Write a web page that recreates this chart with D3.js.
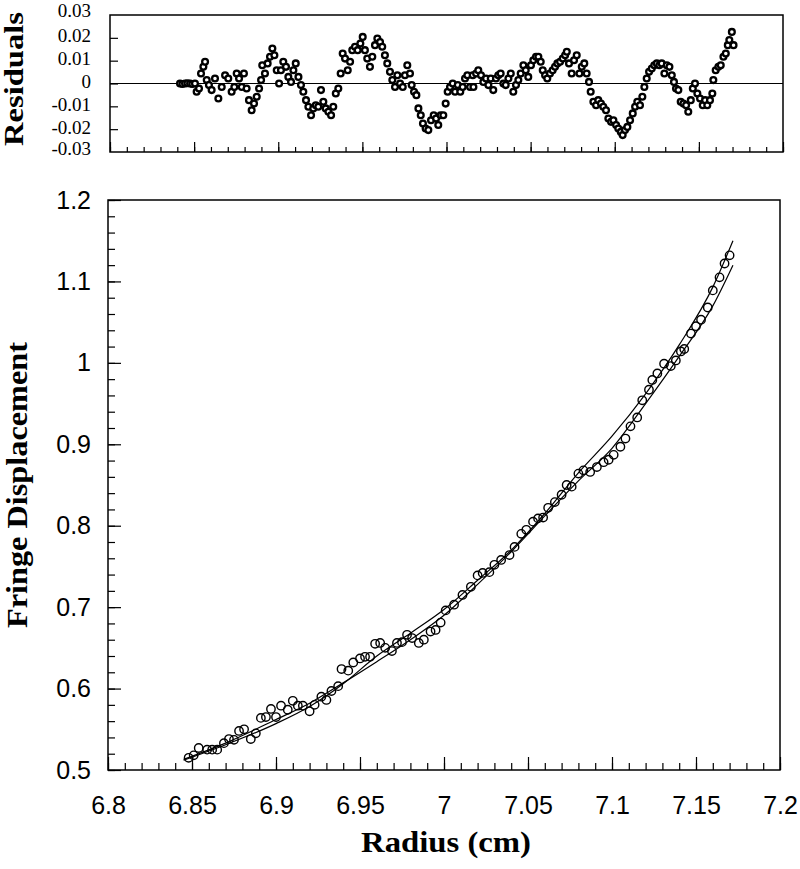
<!DOCTYPE html>
<html>
<head>
<meta charset="utf-8">
<script src="https://cdn.jsdelivr.net/npm/d3@7"></script>
<style>
  body { margin: 0; background: #fff; }
</style>
</head>
<body>
<div id="graph"></div>
<script>
// residuals of the fit, [radius, residual]
const residuals = [
  [6.8416, 0], [6.8430, -0.0002], [6.8446, 0], [6.8460, 0.0001], [6.8476, 0], [6.8489, -0.0002], [6.8505, 0],
  [6.8515, -0.0036], [6.8529, -0.0022], [6.8541, 0.0044], [6.8555, 0.0073], [6.8565, 0.0095], [6.8575, 0.0015],
  [6.8588, -0.0007], [6.8604, -0.0029], [6.8624, 0.0022], [6.8644, -0.0066], [6.8664, -0.0015], [6.8684, 0.0036],
  [6.8703, 0.0022], [6.8723, -0.0036], [6.8739, -0.0015], [6.8753, 0.0044], [6.8767, 0.0022], [6.8783, -0.0015],
  [6.8796, 0.0044], [6.8812, -0.0022], [6.8826, -0.0073], [6.8842, -0.0117], [6.8856, -0.0088], [6.8872, -0.0058],
  [6.8886, -0.0022], [6.8898, 0.0015], [6.8905, 0.0080], [6.8921, 0.0044], [6.8937, 0.0088], [6.8951, 0.0117],
  [6.8965, 0.0153], [6.8977, 0.0124], [6.8991, 0.0058], [6.9005, 0.0000], [6.9016, 0.0058], [6.9030, 0.0095],
  [6.9046, 0.0073], [6.9060, 0.0029], [6.9076, 0.0007], [6.9090, 0.0058], [6.9104, 0.0088], [6.9120, 0.0029],
  [6.9135, -0.0007], [6.9149, -0.0036], [6.9165, -0.0073], [6.9179, -0.0102], [6.9195, -0.0139], [6.9208, -0.0109],
  [6.9223, -0.0095], [6.9238, -0.0102], [6.9254, -0.0029], [6.9268, -0.0080], [6.9282, -0.0109], [6.9298, -0.0124],
  [6.9314, -0.0139], [6.9327, -0.0102], [6.9342, -0.0044], [6.9357, -0.0022], [6.9371, 0.0044], [6.9383, 0.0131],
  [6.9397, 0.0109], [6.9413, 0.0058], [6.9427, 0.0095], [6.9440, 0.0146], [6.9456, 0.0161], [6.9472, 0.0146],
  [6.9488, 0.0175], [6.9502, 0.0204], [6.9515, 0.0146], [6.9529, 0.0109], [6.9545, 0.0073], [6.9559, 0.0117],
  [6.9575, 0.0168], [6.9589, 0.0197], [6.9605, 0.0182], [6.9618, 0.0161], [6.9634, 0.0124], [6.9648, 0.0088],
  [6.9664, 0.0051], [6.9678, 0.0015], [6.9694, -0.0015], [6.9708, 0.0036], [6.9724, 0.0000], [6.9740, -0.0015],
  [6.9753, 0.0036], [6.9767, 0.0080], [6.9783, 0.0044], [6.9793, -0.0007], [6.9807, -0.0036], [6.9821, -0.0051],
  [6.9833, -0.0109], [6.9847, -0.0139], [6.9860, -0.0175], [6.9876, -0.0197], [6.9892, -0.0204], [6.9908, -0.0161],
  [6.9924, -0.0139], [6.9938, -0.0153], [6.9951, -0.0182], [6.9965, -0.0139], [6.9981, -0.0139], [6.9995, -0.0088],
  [7.0007, -0.0036], [7.0021, -0.0015], [7.0037, 0.0000], [7.0051, -0.0036], [7.0067, -0.0007], [7.0082, -0.0036],
  [7.0096, -0.0015], [7.0110, 0.0022], [7.0124, 0.0036], [7.0140, -0.0015], [7.0156, 0.0036], [7.0160, -0.0015],
  [7.0176, 0.0044], [7.0189, 0.0058], [7.0205, 0.0036], [7.0219, 0.0007], [7.0235, 0.0022], [7.0249, -0.0007],
  [7.0263, 0.0022], [7.0278, -0.0029], [7.0294, 0.0022], [7.0308, 0.0036], [7.0322, 0.0044], [7.0338, 0.0000],
  [7.0352, -0.0007], [7.0368, 0.0022], [7.0382, 0.0044], [7.0397, -0.0036], [7.0413, -0.0007], [7.0427, 0.0015],
  [7.0441, 0.0044], [7.0457, 0.0080], [7.0471, 0.0058], [7.0486, 0.0029], [7.0502, 0.0080], [7.0516, 0.0102],
  [7.0532, 0.0117], [7.0546, 0.0117], [7.0560, 0.0095], [7.0572, 0.0058], [7.0586, 0.0036], [7.0599, 0.0022],
  [7.0615, 0.0044], [7.0631, 0.0058], [7.0645, 0.0073], [7.0659, 0.0088], [7.0675, 0.0095], [7.0691, 0.0109],
  [7.0705, 0.0124], [7.0715, 0.0139], [7.0728, 0.0088], [7.0744, 0.0044], [7.0758, 0.0102], [7.0774, 0.0124],
  [7.0790, 0.0044], [7.0804, 0.0073], [7.0819, 0.0088], [7.0833, 0.0044], [7.0847, 0.0007], [7.0857, -0.0036],
  [7.0873, -0.0080], [7.0889, -0.0095], [7.0902, -0.0073], [7.0918, -0.0088], [7.0932, -0.0102], [7.0948, -0.0117],
  [7.0962, -0.0153], [7.0978, -0.0168], [7.0992, -0.0161], [7.1008, -0.0182], [7.1021, -0.0197], [7.1036, -0.0212],
  [7.1047, -0.0226], [7.1061, -0.0204], [7.1075, -0.0190], [7.1091, -0.0161], [7.1107, -0.0131], [7.1121, -0.0102],
  [7.1134, -0.0080], [7.1150, -0.0095], [7.1164, -0.0058], [7.1176, -0.0015], [7.1190, 0.0022], [7.1204, 0.0051],
  [7.1220, 0.0066], [7.1235, 0.0080], [7.1250, 0.0088], [7.1265, 0.0080], [7.1279, 0.0088], [7.1295, 0.0044],
  [7.1309, 0.0080], [7.1325, 0.0073], [7.1339, 0.0036], [7.1352, 0.0007], [7.1364, -0.0022], [7.1378, -0.0029],
  [7.1392, -0.0080], [7.1408, -0.0088], [7.1424, -0.0095], [7.1437, -0.0124], [7.1452, -0.0073], [7.1464, -0.0022],
  [7.1477, 0.0000], [7.1491, -0.0044], [7.1507, -0.0066], [7.1523, -0.0095], [7.1537, -0.0073], [7.1550, -0.0095],
  [7.1566, -0.0073], [7.1580, -0.0044], [7.1586, 0.0015], [7.1600, 0.0058], [7.1616, 0.0073], [7.1630, 0.0080],
  [7.1646, 0.0117], [7.1660, 0.0131], [7.1672, 0.0168], [7.1681, 0.0190], [7.1696, 0.0226], [7.1706, 0.0168]
];

// measured fringe displacement, [radius, displacement]
const displacement = [
  [6.848, 0.515], [6.851, 0.518], [6.854, 0.527], [6.859, 0.525], [6.862, 0.525], [6.865, 0.525], [6.869, 0.533],
  [6.872, 0.538], [6.875, 0.537], [6.878, 0.548], [6.881, 0.55], [6.885, 0.538], [6.888, 0.545], [6.891, 0.564],
  [6.894, 0.565], [6.897, 0.575], [6.9, 0.565], [6.903, 0.579], [6.907, 0.574], [6.91, 0.585], [6.913, 0.579],
  [6.916, 0.579], [6.92, 0.572], [6.923, 0.58], [6.927, 0.59], [6.93, 0.586], [6.933, 0.597], [6.937, 0.603],
  [6.939, 0.624], [6.943, 0.622], [6.946, 0.632], [6.95, 0.637], [6.953, 0.639], [6.956, 0.639], [6.959, 0.655],
  [6.962, 0.656], [6.965, 0.65], [6.969, 0.646], [6.972, 0.656], [6.975, 0.657], [6.978, 0.666], [6.981, 0.662],
  [6.985, 0.656], [6.988, 0.66], [6.992, 0.67], [6.995, 0.672], [6.998, 0.681], [7.001, 0.696], [7.006, 0.703],
  [7.011, 0.715], [7.016, 0.725], [7.02, 0.739], [7.023, 0.742], [7.027, 0.743], [7.03, 0.752], [7.034, 0.758],
  [7.039, 0.764], [7.042, 0.774], [7.046, 0.79], [7.049, 0.795], [7.053, 0.805], [7.056, 0.809], [7.059, 0.81],
  [7.062, 0.822], [7.066, 0.829], [7.07, 0.838], [7.073, 0.85], [7.076, 0.848], [7.08, 0.864], [7.083, 0.868],
  [7.087, 0.866], [7.091, 0.872], [7.095, 0.878], [7.098, 0.881], [7.101, 0.887], [7.105, 0.897], [7.108, 0.907],
  [7.111, 0.922], [7.115, 0.933], [7.118, 0.954], [7.122, 0.967], [7.124, 0.979], [7.127, 0.987], [7.131, 0.999],
  [7.135, 0.996], [7.138, 1.003], [7.141, 1.014], [7.143, 1.017], [7.147, 1.036], [7.15, 1.045], [7.153, 1.053],
  [7.157, 1.068], [7.16, 1.089], [7.164, 1.105], [7.167, 1.122], [7.17, 1.132]
];

// the two fitted curves
const fitUpper = [
  [6.845, 0.512], [6.87, 0.531], [6.9, 0.557], [6.92, 0.578], [6.94, 0.606], [6.96, 0.64], [6.98, 0.668],
  [7.0, 0.697], [7.02, 0.733], [7.04, 0.77], [7.06, 0.815], [7.08, 0.865], [7.1, 0.91], [7.12, 0.962],
  [7.14, 1.022], [7.16, 1.093], [7.172, 1.15]
];
const fitLower = [
  [6.845, 0.513], [6.87, 0.533], [6.9, 0.562], [6.92, 0.582], [6.94, 0.607], [6.96, 0.633], [6.98, 0.66],
  [7.0, 0.69], [7.02, 0.728], [7.04, 0.768], [7.06, 0.812], [7.08, 0.855], [7.1, 0.895], [7.12, 0.95],
  [7.14, 1.008], [7.16, 1.07], [7.172, 1.12]
];

// tick labels
const xTicks = [6.8, 6.85, 6.9, 6.95, 7, 7.05, 7.1, 7.15, 7.2];
const xTickLabels = ['6.8', '6.85', '6.9', '6.95', '7', '7.05', '7.1', '7.15', '7.2'];
const yTicks = [0.5, 0.6, 0.7, 0.8, 0.9, 1, 1.1, 1.2];
const yTickLabels = ['0.5', '0.6', '0.7', '0.8', '0.9', '1', '1.1', '1.2'];
const resTicks = [0.03, 0.02, 0.01, 0, -0.01, -0.02, -0.03];
const resTickLabels = ['0.03', '0.02', '0.01', '0', '-0.01', '-0.02', '-0.03'];

const w = 800;
const h = 869;
const resBox = {left: 110, right: 783, top: 15, bottom: 152};
const mainBox = {left: 108, right: 780, top: 200, bottom: 770};
const serif = '"Liberation Serif", "Times New Roman", serif';
const sans = '"Liberation Sans", Arial, sans-serif';

const svg = d3.select('#graph')
    .append('svg')
    .attr('width', w)
    .attr('height', h);

// ---------- residuals panel ----------
const xTop = d3.scaleLinear().domain([6.8, 7.2]).range([resBox.left, resBox.right]);
const yTop = d3.scaleLinear().domain([-0.03, 0.03]).range([resBox.bottom, resBox.top]);

svg.append('line')
    .attr('x1', resBox.left).attr('x2', resBox.right)
    .attr('y1', yTop(0)).attr('y2', yTop(0))
    .attr('stroke', '#000').attr('stroke-width', 1.2);

svg.append('g')
    .selectAll('circle')
    .data(residuals)
    .enter()
    .append('circle')
    .attr('cx', d => xTop(d[0]))
    .attr('cy', d => yTop(d[1]))
    .attr('r', 2.9)
    .attr('fill', '#fff')
    .attr('stroke', '#000')
    .attr('stroke-width', 2.3);

svg.append('g')
    .attr('transform', 'translate(0,' + resBox.bottom + ')')
    .call(d3.axisBottom(xTop).tickValues(xTop.ticks(40)).tickSize(-5).tickFormat(''))
    .call(g => g.select('.domain').remove());
svg.append('g')
    .attr('transform', 'translate(0,' + resBox.bottom + ')')
    .call(d3.axisBottom(xTop).tickValues(xTicks).tickSize(-10).tickFormat(''))
    .call(g => g.select('.domain').remove());
svg.append('g')
    .attr('transform', 'translate(' + resBox.left + ',0)')
    .call(d3.axisLeft(yTop).tickValues(resTicks.slice(1, -1)).tickSize(-8).tickFormat(''))
    .call(g => g.select('.domain').remove());

svg.append('rect')
    .attr('x', resBox.left).attr('y', resBox.top)
    .attr('width', resBox.right - resBox.left).attr('height', resBox.bottom - resBox.top)
    .attr('fill', 'none').attr('stroke', '#000').attr('stroke-width', 1.5);

svg.append('g')
    .selectAll('text')
    .data(resTicks)
    .enter()
    .append('text')
    .attr('x', 91)
    .attr('y', (d, i) => yTop(d) + (i == 0 ? -5 : i == resTicks.length - 1 ? -4 : -2))
    .attr('dy', '0.35em')
    .attr('text-anchor', 'end')
    .style('font-family', serif)
    .style('font-size', '19px')
    .text((d, i) => resTickLabels[i]);

svg.append('text')
    .attr('transform', 'translate(23,79) rotate(-90)')
    .attr('text-anchor', 'middle')
    .attr('textLength', 134)
    .attr('lengthAdjust', 'spacingAndGlyphs')
    .style('font-family', serif)
    .style('font-weight', 'bold')
    .style('font-size', '27px')
    .text('Residuals');

// ---------- fringe displacement panel ----------
const xBot = d3.scaleLinear().domain([6.8, 7.2]).range([mainBox.left, mainBox.right]);
const yBot = d3.scaleLinear().domain([0.5, 1.2]).range([mainBox.bottom, mainBox.top]);

const line = d3.line()
    .x(d => xBot(d[0]))
    .y(d => yBot(d[1]))
    .curve(d3.curveMonotoneX);

[fitUpper, fitLower].forEach(function (fit) {
    svg.append('path')
        .attr('d', line(fit))
        .attr('fill', 'none')
        .attr('stroke', '#000')
        .attr('stroke-width', 1.2);
});

svg.append('g')
    .selectAll('circle')
    .data(displacement)
    .enter()
    .append('circle')
    .attr('cx', d => xBot(d[0]))
    .attr('cy', d => yBot(d[1]))
    .attr('r', 4.2)
    .attr('fill', 'none')
    .attr('stroke', '#000')
    .attr('stroke-width', 1.4);

const xAxis = d3.axisBottom(xBot)
    .tickValues(xTicks)
    .tickSize(-13)
    .tickPadding(26)
    .tickFormat((d, i) => xTickLabels[i]);

const yAxis = d3.axisLeft(yBot)
    .tickValues(yTicks)
    .tickSize(-13)
    .tickPadding(17)
    .tickFormat((d, i) => yTickLabels[i]);

svg.append('g')
    .attr('transform', 'translate(0,' + mainBox.bottom + ')')
    .call(d3.axisBottom(xBot).tickValues(xBot.ticks(40)).tickSize(-7).tickFormat(''))
    .call(g => g.select('.domain').remove());
svg.append('g')
    .attr('transform', 'translate(' + mainBox.left + ',0)')
    .call(d3.axisLeft(yBot).tickValues(yBot.ticks(35)).tickSize(-7).tickFormat(''))
    .call(g => g.select('.domain').remove());

svg.append('g')
    .attr('transform', 'translate(0,' + mainBox.bottom + ')')
    .call(xAxis)
    .call(g => g.select('.domain').remove());
svg.append('g')
    .attr('transform', 'translate(' + mainBox.left + ',0)')
    .call(yAxis)
    .call(g => g.select('.domain').remove());

svg.selectAll('.tick line').attr('stroke-width', 1.2);
svg.selectAll('.tick text')
    .style('font-family', sans)
    .style('font-size', '25px')
    .attr('fill', '#000');

svg.append('rect')
    .attr('x', mainBox.left).attr('y', mainBox.top)
    .attr('width', mainBox.right - mainBox.left).attr('height', mainBox.bottom - mainBox.top)
    .attr('fill', 'none').attr('stroke', '#000').attr('stroke-width', 1.5);

svg.append('text')
    .attr('transform', 'translate(27,485) rotate(-90)')
    .attr('text-anchor', 'middle')
    .attr('textLength', 286)
    .attr('lengthAdjust', 'spacingAndGlyphs')
    .style('font-family', serif)
    .style('font-weight', 'bold')
    .style('font-size', '29px')
    .text('Fringe  Displacement');

svg.append('text')
    .attr('x', 446)
    .attr('y', 852)
    .attr('text-anchor', 'middle')
    .attr('textLength', 170)
    .attr('lengthAdjust', 'spacingAndGlyphs')
    .style('font-family', serif)
    .style('font-weight', 'bold')
    .style('font-size', '29px')
    .text('Radius  (cm)');
</script>
</body>
</html>
